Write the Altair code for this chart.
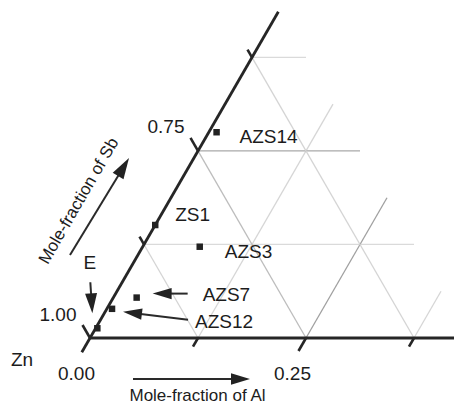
import math
import altair as alt
import pandas as pd

# ---------------- data ----------------
sample_names = ["AZS14", "ZS1", "AZS3", "AZS7", "AZS12", "E"]
al_fraction = [0.009, 0.000, 0.066, 0.027, 0.006, 0.002]
left_axis_reading = [0.725, 0.849, 0.878, 0.946, 0.961, 0.987]   # 1.00 at the Zn corner

grid_levels = [0.125, 0.25, 0.375]
base_ticks = [0.125, 0.25, 0.375]
base_tick_label_vals = [0.0, 0.25]
base_tick_labels = ["0.00", "0.25"]
left_ticks = [1.0, 0.875, 0.75, 0.625]
left_tick_label_vals = [1.0, 0.75]
left_tick_labels = ["1.00", "0.75"]
corner_label = "Zn"
x_title = "Mole-fraction of Al"
y_title = "Mole-fraction of Sb"
window = 0.4375          # visible part of the ternary triangle

# ---------------- layout ----------------
W, H = 446, 398
PX = 864.0               # pixels per unit mole fraction
OX, OY = 82.0, 330.0     # Zn corner in chart pixels
xdom = [-OX / PX, (W - OX) / PX]
ydom = [-(H - OY) / PX, OY / PX]
S3 = math.sqrt(3) / 2
FONT = "Liberation Sans"
INK = "#1c1c1c"


def cart(a, b):
    return (a + 0.5 * b, S3 * b)


def shift(p, dx, dy):
    return (p[0] + dx / PX, p[1] - dy / PX)


def lb(v):  # left-axis reading -> distance along the left edge
    return 1.0 - v


xs = alt.Scale(domain=xdom, nice=False, zero=False)
ys = alt.Scale(domain=ydom, nice=False, zero=False)


def seg_chart(rows, width):
    df = pd.DataFrame(rows, columns=["x", "y", "x2", "y2", "c"])
    return alt.Chart(df).mark_rule(strokeWidth=width, strokeCap="butt").encode(
        x=alt.X("x:Q", scale=xs, axis=None),
        y=alt.Y("y:Q", scale=ys, axis=None),
        x2="x2:Q",
        y2="y2:Q",
        color=alt.Color("c:N", scale=None),
    )


# grid lines, clipped to the visible window
grid = []
for s in grid_levels:
    p, q = cart(0, s), cart(window - s, s)
    grid.append([p[0], p[1], q[0], q[1], "#a9a9a9" if s == 0.25 else "#dadada"])
    p, q = cart(s, 0), cart(s, window - s)
    grid.append([p[0], p[1], q[0], q[1], "#a0a0a0" if s == 0.25 else "#d6d6d6"])
    p, q = cart(s, 0), cart(0, s)
    grid.append([p[0], p[1], q[0], q[1], "#bdbdbd" if s == 0.25 else "#d4d4d4"])

# axes
axes = []
p, q = cart(0, -0.019), cart(0, 0.436)
axes.append([p[0], p[1], q[0], q[1], "#262626"])
p = cart(0, 0)
axes.append([p[0], p[1], xdom[1], 0.0, "#262626"])

ticks = []
for a in base_ticks:
    L = 15 if a == 0.25 else 10
    p = cart(a, 0)
    q = shift(p, -0.5 * L, S3 * L)
    ticks.append([p[0], p[1], q[0], q[1], "#262626"])
for v in left_ticks:
    L = 15 if v in (1.0, 0.75) else 9
    p = cart(0, lb(v))
    q = shift(p, -0.5 * L, -S3 * L)
    ticks.append([p[0], p[1], q[0], q[1], "#262626"])

# sample points
pts = [cart(a, lb(v)) for a, v in zip(al_fraction, left_axis_reading)]
pdf = pd.DataFrame({"x": [p[0] for p in pts], "y": [p[1] for p in pts], "name": sample_names})
points = alt.Chart(pdf).mark_square(size=42, color="#222222", opacity=1).encode(
    x=alt.X("x:Q", scale=xs, axis=None), y=alt.Y("y:Q", scale=ys, axis=None)
)

# labels
origin = cart(0, 0)
label_off = {"AZS14": (23, 5), "ZS1": (20, -10), "AZS3": (25, 5.5),
             "AZS7": (66, -3), "AZS12": (83, 13.5)}
left_rows, center_rows = [], []
for name, p in zip(sample_names, pts):
    if name in label_off:
        q = shift(p, *label_off[name])
        left_rows.append([q[0], q[1], name, 19, 0])
    else:
        q = shift(p, -7.5, -65.5)
        center_rows.append([q[0], q[1], name, 19, 0])
for v, t in zip(base_tick_label_vals, base_tick_labels):
    q = shift(cart(v, 0), -13.5, 36)
    center_rows.append([q[0], q[1], t, 19, 0])
for v, t in zip(left_tick_label_vals, left_tick_labels):
    q = shift(cart(0, lb(v)), -32, -23.5)
    center_rows.append([q[0], q[1], t, 19, 0])
q = shift(origin, -68, 22)
center_rows.append([q[0], q[1], corner_label, 19, 0])
q = shift(origin, 107.5, 58)
center_rows.append([q[0], q[1], x_title, 17, 0])
q = shift(origin, -11, -137)
center_rows.append([q[0], q[1], y_title, 17, 300])


def text_chart(rows, align):
    df = pd.DataFrame(rows, columns=["x", "y", "t", "fs", "ang"])
    return alt.Chart(df).mark_text(align=align, baseline="middle", font=FONT, color=INK).encode(
        x=alt.X("x:Q", scale=xs, axis=None),
        y=alt.Y("y:Q", scale=ys, axis=None),
        text="t:N",
        size=alt.Size("fs:Q", scale=None),
        angle=alt.Angle("ang:Q", scale=None),
    )


# arrows: (anchor, tail offset px, tip offset px, head length px)
ptmap = dict(zip(sample_names, pts))
arrow_defs = [
    (origin, (-20, -83), (39, -180), 21),
    (origin, (43, 41), (160, 41), 19),
    (ptmap["E"], (-7, -46), (-5, -15), 20),
    (ptmap["AZS7"], (51, -4), (16, -4), 19),
    (ptmap["AZS12"], (76, 11), (11, 3), 19),
]
shafts, heads = [], []
for anc, tail, tip, hl in arrow_defs:
    dx, dy = tip[0] - tail[0], tip[1] - tail[1]
    n = math.hypot(dx, dy)
    ux, uy = dx / n, dy / n
    c = (tip[0] - ux * hl / 2, tip[1] - uy * hl / 2)
    t0 = shift(anc, *tail)
    t1 = shift(anc, *c)
    shafts.append([t0[0], t0[1], t1[0], t1[1], "#2a2a2a"])
    ang = (math.degrees(math.atan2(dx, -dy)) + 360) % 360
    heads.append([t1[0], t1[1], ang, hl * hl])
hdf = pd.DataFrame(heads, columns=["x", "y", "ang", "sz"])
arrowheads = alt.Chart(hdf).mark_point(
    shape="M0,-1L0.6,1L-0.6,1Z", filled=True, color="#222222", opacity=1, strokeWidth=0
).encode(
    x=alt.X("x:Q", scale=xs, axis=None),
    y=alt.Y("y:Q", scale=ys, axis=None),
    angle=alt.Angle("ang:Q", scale=None),
    size=alt.Size("sz:Q", scale=None),
)

chart = alt.layer(
    seg_chart(grid, 1.3),
    seg_chart(axes, 2.8),
    seg_chart(ticks, 2.6),
    seg_chart(shafts, 2.0),
    arrowheads,
    points,
    text_chart(left_rows, "left"),
    text_chart(center_rows, "center"),
).properties(
    width=W, height=H, padding=0,
    autosize=alt.AutoSizeParams(type="none"),
).configure_view(stroke=None)

chart.save("out.html", embed_options={"renderer": "svg", "actions": False})
